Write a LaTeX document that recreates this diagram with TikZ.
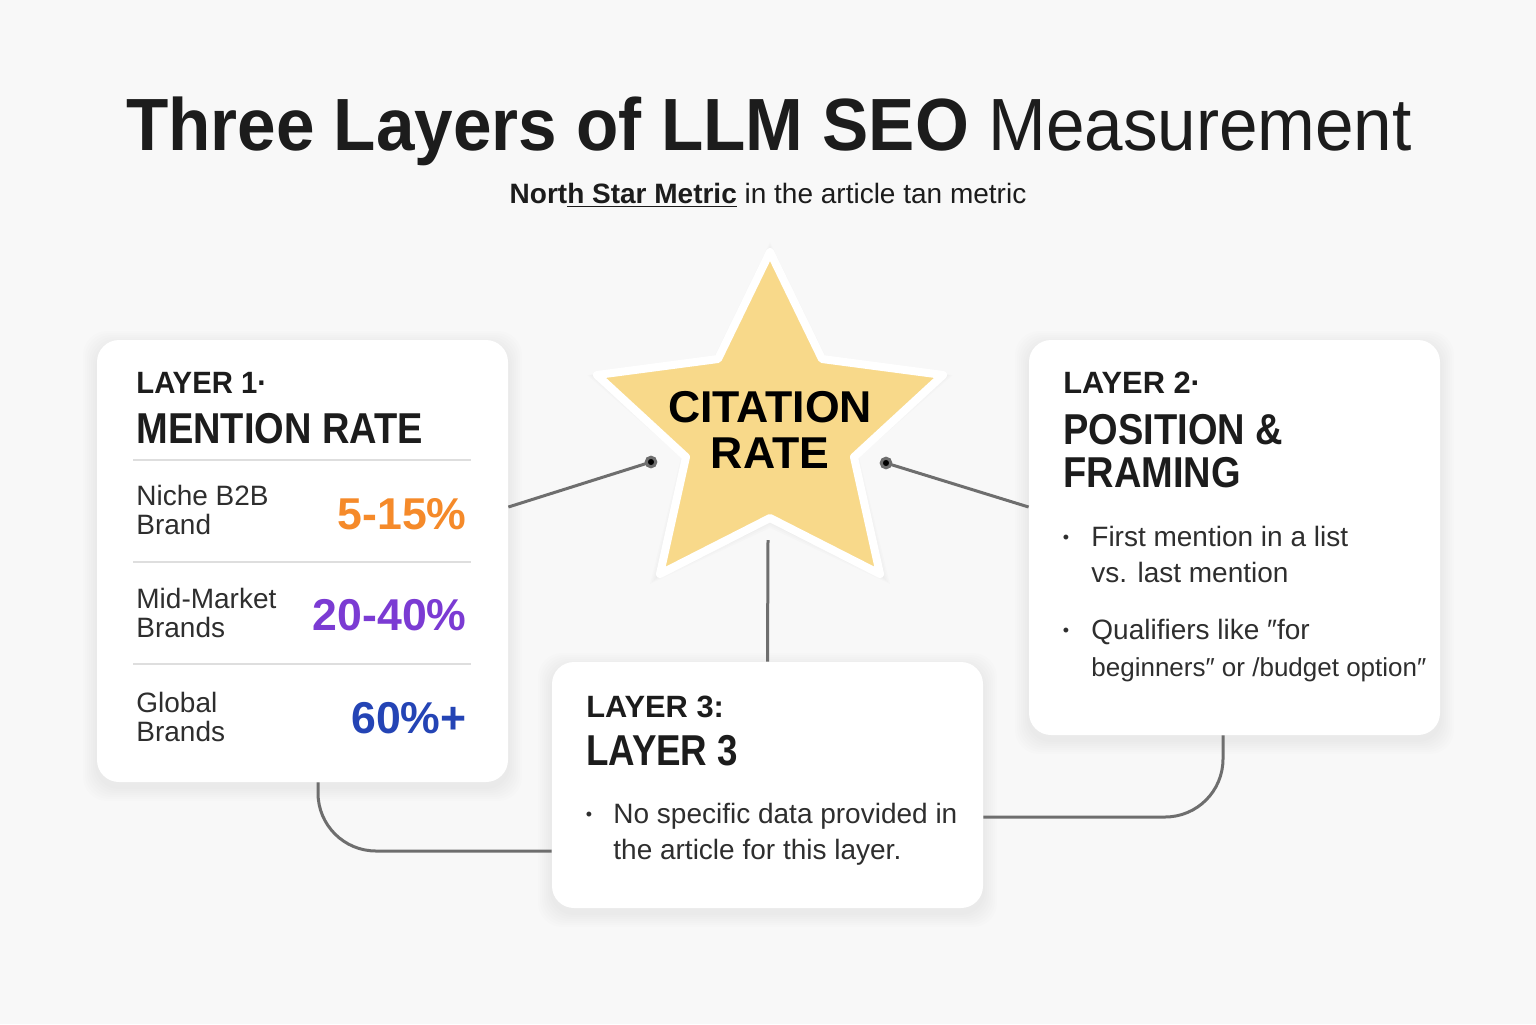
\documentclass[tikz,border=0pt]{standalone}
\usepackage{fontspec}
\usepackage{graphicx}
\setmainfont{Liberation Sans}
\usetikzlibrary{calc}
\definecolor{bg}{HTML}{F8F8F8}
\definecolor{ink}{HTML}{1C1C1C}
\definecolor{body}{HTML}{2E2E2E}
\definecolor{conn}{HTML}{6E6E6E}
\definecolor{sep}{HTML}{DEDEDE}
\definecolor{starfill}{HTML}{F8D98A}
\definecolor{orangeV}{HTML}{F58A2A}
\definecolor{purpleV}{HTML}{7B3BD3}
\definecolor{blueV}{HTML}{2444B5}
\newcommand{\cnd}[1]{\scalebox{0.88}[1]{#1}}
\newcommand{\cardshadow}[4]{%
  \foreach \i in {1,...,7}{%
    \fill[black,opacity=0.009,rounded corners=12pt] ({#1-\i*2},{#2-\i*2+5}) rectangle ({#3+\i*2},{#4+\i*2+5});}}
\begin{document}
\begin{tikzpicture}[x=0.5pt,y=-0.5pt,
  card/.style={fill=white, rounded corners=11pt, inner sep=0pt},
  conn/.style={draw=conn, line width=1.5pt},
  txt/.style={inner sep=0pt, anchor=base west, text=ink},
  head/.style={txt, font=\bfseries\fontsize{15.4}{18}\selectfont},
  big/.style={txt, font=\bfseries\fontsize{21.6}{26}\selectfont},
  bodytxt/.style={txt, text=body, font=\fontsize{14}{17}\selectfont},
  val/.style={inner sep=0pt, anchor=base east, font=\bfseries\fontsize{22.3}{26}\selectfont},
  bul/.style={inner sep=0pt, anchor=base, text=body, font=\fontsize{9}{10}\selectfont},
  sepline/.style={draw=sep, line width=0.8pt}
]
\fill[bg] (0,0) rectangle (1536,1024);
\useasboundingbox (0,0) rectangle (1536,1024);

% title
\node[inner sep=0pt, anchor=base, text=ink, font=\fontsize{37}{40}\selectfont] (title) at (769,150)
  {\scalebox{0.936}[1]{{\bfseries Three Layers of LLM SEO} Measurement}};
\node[inner sep=0pt, anchor=base, text=ink, font=\fontsize{14}{17}\selectfont] (subtitle) at (768,203)
  {{\bfseries Nort\underline{h Star Metric}} in the article tan metric};

% shadows
\cardshadow{97}{340}{508}{782}
\cardshadow{1029}{340}{1440}{735}
\cardshadow{552}{662}{983}{908}

% cards
\node[card, minimum width=205.5pt, minimum height=221pt] (l1box) at (302.5,561) {};
\node[card, minimum width=205.5pt, minimum height=197.5pt] (l2box) at (1234.5,537.5) {};
\node[card, minimum width=215.5pt, minimum height=123pt] (l3box) at (767.5,785) {};

% star
\foreach \i in {1,...,5}{
  \fill[black,opacity=0.011,line join=round]
    (770,{252-\i*2}) -- ({822+\i},{359}) -- ({943+\i*2},{375}) -- ({854+\i},457) -- ({880+\i*2},{574+\i*2})
    -- (770,{518+\i*2}) -- ({660-\i*2},{574+\i*2}) -- ({686-\i},457) -- ({597-\i*2},375) -- ({718-\i},359) -- cycle;}
\filldraw[fill=starfill, draw=white, line width=4pt, line join=round]
  (770,252) -- (822,359) -- (943,375) -- (854,457) -- (880,574)
  -- (770,518) -- (660,574) -- (686,457) -- (597,375) -- (718,359) -- cycle;
\node[inner sep=0pt, anchor=base, text=black, font=\bfseries\fontsize{22.3}{26}\selectfont] (star) at (770,422) {CITATION};
\node[inner sep=0pt, anchor=base, text=black, font=\bfseries\fontsize{22.3}{26}\selectfont] (starb) at (770,468) {RATE};
\coordinate (sl) at (651,462);
\coordinate (sr) at (886,463);
\coordinate (sb) at (768,540);

% connectors
\draw[conn] (sl) -- ($(l1box.east)+(0,-54)$);
\draw[conn] (sr) -- ($(l2box.west)+(0,-30.5)$);
\fill[conn] (sl) circle (2.4pt);
\fill[conn] (sr) circle (2.4pt);
\draw[conn] (sb) -- (l3box.north);
\draw[conn, rounded corners=29pt] ($(l1box.south)+(15.5,0)$) |- ($(l3box.west)+(0,66)$);
\draw[conn, rounded corners=29pt] ($(l2box.south)+(-11.5,0)$) |- ($(l3box.east)+(0,32)$);

% layer 1 content
\node[head] (l1a) at (136,393) {\scalebox{0.95}[1]{LAYER 1·}};
\node[big] (l1b) at (136,443) {\cnd{MENTION RATE}};
\draw[sepline] (133,460) -- (471,460);
\draw[sepline] (133,562) -- (471,562);
\draw[sepline] (133,664) -- (471,664);
\node[bodytxt] (n1) at (136,505) {Niche B2B};
\node[bodytxt] (n2) at (136,534) {Brand};
\node[val, text=orangeV] (v1) at (467,529) {5-15\%};
\node[bodytxt] (m1) at (136,608) {Mid-Market};
\node[bodytxt] (m2) at (136,637) {Brands};
\node[val, text=purpleV] (v2) at (467,630) {20-40\%};
\node[bodytxt] (g1) at (136,712) {Global};
\node[bodytxt] (g2) at (136,741) {Brands};
\node[val, text=blueV] (v3) at (467,733) {60\%+};

% layer 2 content
\node[head] (l2a) at (1063,393) {LAYER 2·};
\node[big] (l2b) at (1063,444) {\cnd{POSITION \&}};
\node[big] (l2c) at (1063,487) {\cnd{FRAMING}};
\node[bul] (b1) at (1066,543) {•};
\node[bodytxt] (p1) at (1091,546) {First mention in a list};
\node[bodytxt] (p2) at (1091,582) {vs. last mention};
\node[bul] (b2) at (1066,636) {•};
\node[bodytxt] (p3) at (1091,639) {Qualifiers like ″for};
\node[bodytxt, font=\fontsize{13}{16}\selectfont] (p4) at (1091,676) {beginners″ or /budget option″};

% layer 3 content
\node[head] (l3a) at (586,717) {LAYER 3:};
\node[big] (l3b) at (586,765) {\scalebox{0.85}[1]{LAYER 3}};
\node[bul] (b3) at (589,820) {•};
\node[bodytxt] (q1) at (613,823) {No specific data provided in};
\node[bodytxt] (q2) at (613,859) {the article for this layer.};
\end{tikzpicture}
\end{document}
